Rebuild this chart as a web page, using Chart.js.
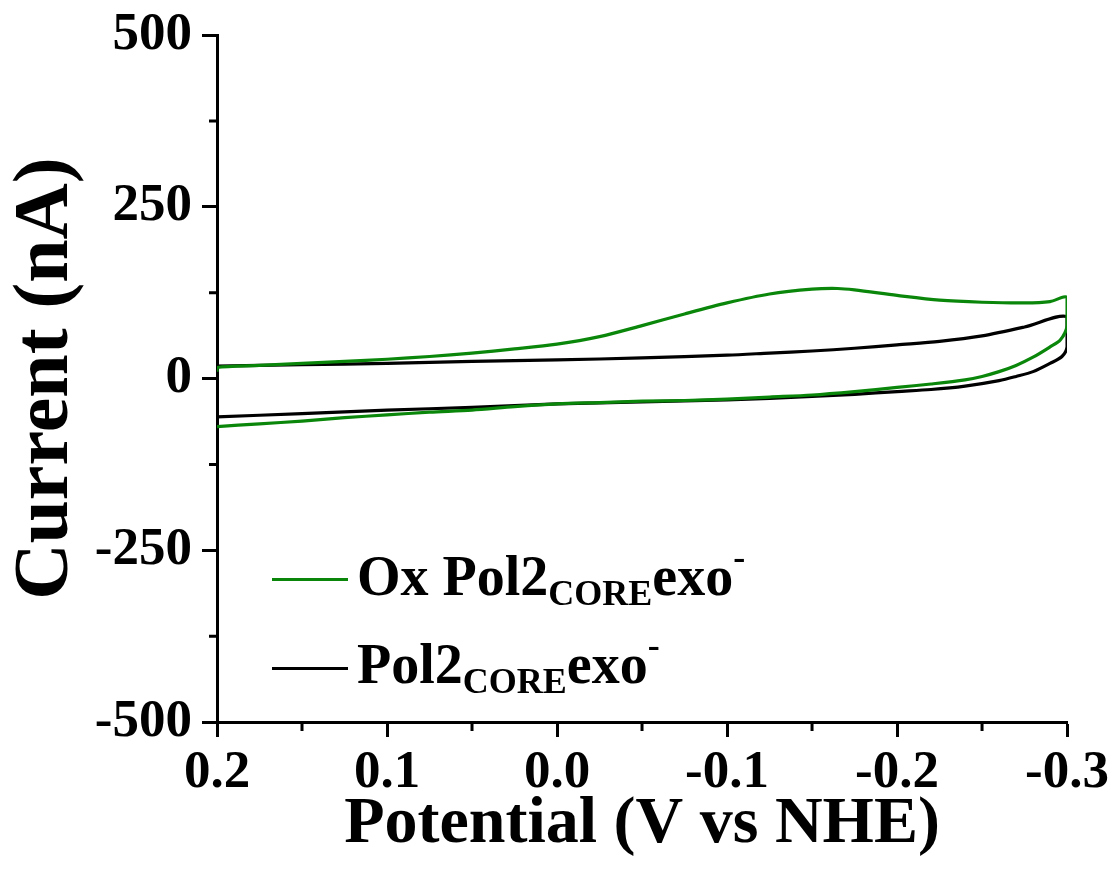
<!DOCTYPE html>
<html>
<head>
<meta charset="utf-8">
<script src="https://cdn.jsdelivr.net/npm/chart.js@4.4.1/dist/chart.umd.min.js"></script>
<style>
  html, body { margin: 0; padding: 0; background: #fff; }
  #wrap { position: relative; width: 1114px; height: 881px; }
  #c { position: absolute; left: 0; top: 0; }
  .lg-line { position: absolute; height: 3px; }
  .lg-text { position: absolute; left: 357px; font-family: 'Liberation Serif', 'Times New Roman', serif; font-weight: bold; font-size: 56px; line-height: 1; white-space: nowrap; color: #000; }
  .lg-text sub, .lg-text sup { font-size: 36px; line-height: 0; vertical-align: baseline; position: relative; }
  .lg-text sub { top: 10px; }
  .lg-text sup { top: -26px; }
</style>
</head>
<body>
<div id="wrap">
  <canvas id="c" width="1114" height="881"></canvas>
  <div class="lg-line" style="left:272px; top:578px; width:76px; background:#0a870a;"></div>
  <div class="lg-text" style="top:548px;">Ox Pol2<sub>CORE</sub>exo<sup>-</sup></div>
  <div class="lg-line" style="left:272px; top:667px; width:76px; background:#000;"></div>
  <div class="lg-text" style="top:636px;">Pol2<sub>CORE</sub>exo<sup>-</sup></div>
</div>
<script>
// Ox Pol2CORE exo- (green) : cyclic voltammogram, potential (V vs NHE) and current (nA)
const oxPotential = [0.2, 0.2, 0.175, 0.15, 0.125, 0.1, 0.075, 0.05, 0.025, 0.0, -0.025, -0.05, -0.075, -0.1, -0.125, -0.15, -0.165, -0.175, -0.2, -0.225, -0.25, -0.275, -0.29, -0.3,
  -0.3, -0.296, -0.29, -0.28, -0.27, -0.26, -0.25, -0.24, -0.22, -0.2, -0.175, -0.15, -0.125, -0.1, -0.075, -0.05, -0.025, 0.0, 0.025, 0.05, 0.075, 0.1, 0.125, 0.15, 0.175, 0.2];
const oxCurrent = [10, 16, 19, 22, 25, 28, 32, 37, 43, 50, 61, 77, 94, 110, 123, 130, 131, 129, 121, 114, 111, 110, 112, 118,
  76, 56, 46, 31, 19, 10, 3, -2, -8, -13, -19, -24, -27, -30, -32, -33, -35, -37, -41, -46, -49, -53, -57, -62, -66, -70];

// Pol2CORE exo- (black)
const refPotential = [0.2, 0.15, 0.1, 0.05, 0.0, -0.05, -0.1, -0.125, -0.15, -0.175, -0.2, -0.225, -0.25, -0.275, -0.3,
  -0.3, -0.297, -0.29, -0.28, -0.27, -0.26, -0.24, -0.22, -0.2, -0.175, -0.15, -0.125, -0.1, -0.05, 0.0, 0.05, 0.1, 0.15, 0.2];
const refCurrent = [18, 20, 22, 25, 27, 30, 34, 37, 40, 44, 49, 54, 62, 75, 90,
  46, 32, 22, 10, 3, -3, -11, -16, -19, -23, -26, -29, -31, -34, -37, -42, -46, -51, -56];

const xTicks = [0.2, 0.1, 0.0, -0.1, -0.2, -0.3];
const xMinorTicks = [0.15, 0.05, -0.05, -0.15, -0.25];
const yTicks = [-500, -250, 0, 250, 500];
const yMinorTicks = [-375, -125, 125, 375];

const toPts = (xs, ys) => xs.map((x, i) => ({ x: x, y: ys[i] }));

const FONT = "'Liberation Serif', 'Times New Roman', serif";

const minorTickPlugin = {
  id: 'minorTicks',
  afterDraw(chart) {
    const ctx = chart.ctx;
    const xs = chart.scales.x, ys = chart.scales.y;
    ctx.save();
    ctx.strokeStyle = '#000';
    ctx.lineWidth = 3;
    ctx.beginPath();
    xMinorTicks.forEach(v => {
      const px = xs.getPixelForValue(v);
      ctx.moveTo(px, xs.top);
      ctx.lineTo(px, xs.top + 9);
    });
    yMinorTicks.forEach(v => {
      const py = ys.getPixelForValue(v);
      ctx.moveTo(ys.right, py);
      ctx.lineTo(ys.right - 8, py);
    });
    ctx.stroke();
    ctx.restore();
  }
};

new Chart(document.getElementById('c'), {
  type: 'scatter',
  data: {
    datasets: [
      {
        label: 'Ox Pol2CORE exo-',
        data: toPts(oxPotential, oxCurrent),
        showLine: true,
        borderColor: '#0a870a',
        borderWidth: 3.2,
        pointRadius: 0,
        tension: 0.3,
        fill: false
      },
      {
        label: 'Pol2CORE exo-',
        data: toPts(refPotential, refCurrent),
        showLine: true,
        borderColor: '#000000',
        borderWidth: 3.2,
        pointRadius: 0,
        tension: 0.3,
        fill: false
      }
    ]
  },
  options: {
    responsive: false,
    animation: false,
    devicePixelRatio: 1,
    layout: { padding: { top: 35, right: 46, bottom: 0, left: 0 } },
    plugins: {
      legend: { display: false },
      tooltip: { enabled: false }
    },
    scales: {
      x: {
        type: 'linear',
        reverse: true,
        min: -0.3,
        max: 0.2,
        afterBuildTicks: s => { s.ticks = xTicks.map(v => ({ value: v })); },
        afterFit: s => { s.height = 159; },
        ticks: {
          font: { family: FONT, weight: 'bold', size: 53 },
          color: '#000',
          padding: 5,
          maxRotation: 0,
          autoSkip: false,
          callback: v => v.toFixed(1)
        },
        grid: { drawOnChartArea: false, drawTicks: true, tickLength: 15, tickWidth: 3, tickColor: '#000', color: '#000' },
        border: { display: true, width: 3, color: '#000' },
        title: {
          display: true,
          text: 'Potential (V vs NHE)',
          font: { family: FONT, weight: 'bold', size: 66 },
          color: '#000',
          padding: { top: 0, bottom: 16 }
        }
      },
      y: {
        type: 'linear',
        min: -500,
        max: 500,
        afterBuildTicks: s => { s.ticks = yTicks.map(v => ({ value: v })); },
        afterFit: s => { s.width = 217; s.paddingTop = 0; s.paddingBottom = 0; },
        ticks: {
          font: { family: FONT, weight: 'bold', size: 53 },
          color: '#000',
          padding: 10,
          autoSkip: false,
          callback: v => String(v)
        },
        grid: { drawOnChartArea: false, drawTicks: true, tickLength: 15, tickWidth: 3, tickColor: '#000', color: '#000' },
        border: { display: true, width: 3, color: '#000' },
        title: {
          display: true,
          text: 'Current (nA)',
          font: { family: FONT, weight: 'bold', size: 78 },
          color: '#000',
          padding: { top: 0, bottom: 0 }
        }
      }
    }
  },
  plugins: [minorTickPlugin]
});
</script>
</body>
</html>
